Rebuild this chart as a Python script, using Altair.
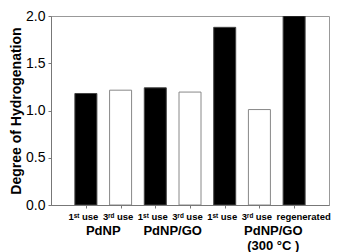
import json
import altair as alt
import pandas as pd

# data
positions = [1, 2, 3, 4, 5, 6, 7]
sub_labels = ["1ˢᵗ use", "3ʳᵈ use", "1ˢᵗ use", "3ʳᵈ use", "1ˢᵗ use", "3ʳᵈ use", "regenerated"]
values = [1.18, 1.215, 1.24, 1.195, 1.88, 1.01, 2.0]
kinds = ["fresh", "reused", "fresh", "reused", "fresh", "reused", "fresh"]

group_names = ["PdNP", "PdNP/GO", "PdNP/GO\n(300 °C )"]
group_centers = [1.5, 3.5, 6.4]

df = pd.DataFrame({"pos": positions, "label": sub_labels, "value": values, "kind": kinds})
gdf = pd.DataFrame({"pos": group_centers, "name": group_names})

W, H = 278, 189
FONT = "Liberation Sans"

xscale = alt.Scale(domain=[0.139, 7.861], nice=False, zero=False)
label_expr = json.dumps(sub_labels, ensure_ascii=False) + "[datum.value - 1]"

bars = alt.Chart(df).mark_bar(size=22, strokeWidth=1, clip=True).encode(
    x=alt.X("pos:Q", scale=xscale,
            axis=alt.Axis(values=positions, labelExpr=label_expr, title=None, grid=False,
                          domainColor="#777", tickColor="#777", tickSize=3,
                          labelFont=FONT, labelFontSize=9.5, labelFontWeight="bold",
                          labelColor="black", labelPadding=3,
                          labelOffset={"condition": {"test": "datum.value == 7", "value": 9},
                                       "value": -3},
                          labelOverlap=False)),
    y=alt.Y("value:Q", scale=alt.Scale(domain=[0, 2.0], nice=False),
            axis=alt.Axis(values=[0, 0.5, 1.0, 1.5, 2.0], format=".1f",
                          title="Degree of Hydrogenation", grid=False,
                          domainColor="#777", tickColor="#777", tickSize=3,
                          labelFont=FONT, labelFontSize=14, labelColor="black", labelPadding=3,
                          titleFont=FONT, titleFontSize=14, titleFontWeight="bold",
                          titleColor="black", titlePadding=2)),
    fill=alt.Fill("kind:N", scale=alt.Scale(domain=["fresh", "reused"], range=["black", "white"]),
                  legend=None),
    stroke=alt.Stroke("kind:N", scale=alt.Scale(domain=["fresh", "reused"], range=["#444", "#888"]),
                      legend=None),
)

groups = alt.Chart(gdf).mark_text(font=FONT, fontSize=13, fontWeight="bold", color="black",
                                  baseline="middle", lineBreak="\n", lineHeight=15).encode(
    x=alt.X("pos:Q", scale=xscale),
    y=alt.value(H + 26),
    text="name:N",
)

chart = alt.layer(bars, groups).properties(
    width=W, height=H,
    autosize=alt.AutoSizeParams(type="none"),
    padding={"left": 43, "top": 8, "right": 3, "bottom": 47},
).configure_view(stroke="#999", strokeWidth=1)

chart.save("out.html", embed_options={"renderer": "svg", "actions": False})
